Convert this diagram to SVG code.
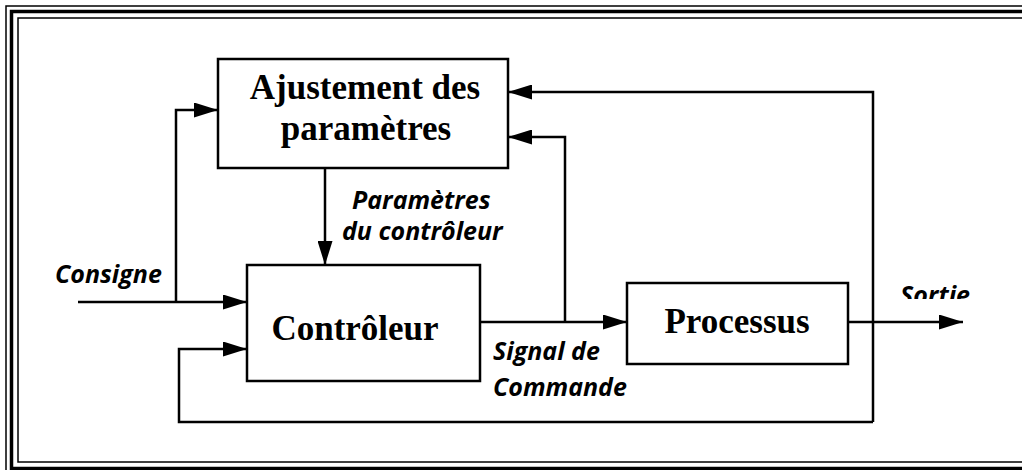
<svg xmlns="http://www.w3.org/2000/svg" width="1022" height="470" viewBox="0 0 1022 470">
  <style>
    .frame { fill: none; stroke: #000; }
    .box { fill: #fff; stroke: #000; stroke-width: 2.5; }
    .title { font-family: "Liberation Serif", "Times New Roman", serif; font-weight: bold; font-size: 35px; fill: #000; text-anchor: middle; }
    .lbl { font-family: "Open Sans", "Noto Sans", sans-serif; font-weight: bold; font-style: italic; font-size: 25px; fill: #000; }
    .wire { fill: none; stroke: #000; stroke-width: 2.5; }
  </style>
  <defs>
    <marker id="arr" viewBox="0 0 24 15" refX="24" refY="7.5" markerWidth="24" markerHeight="15" markerUnits="userSpaceOnUse" orient="auto">
      <path d="M0,0 L24,7.5 L0,15 Z" fill="#000"/>
    </marker>
    <clipPath id="sortieClip">
      <rect x="880" y="270" width="120" height="29"/>
    </clipPath>
  </defs>
  <rect width="1022" height="470" fill="#fff"/>
  <g id="frame">
    <rect class="frame" x="6" y="6" width="1030" height="480" stroke-width="1.5"/>
    <rect class="frame" x="11.5" y="11.5" width="1030" height="457" stroke-width="3.5"/>
    <rect class="frame" x="18" y="18" width="1030" height="444" stroke-width="1.5"/>
  </g>
  <g id="connectors">
    <path class="wire" d="M78,302 H247" marker-end="url(#arr)"/>
    <path class="wire" d="M176,302 V110 H218" marker-end="url(#arr)"/>
    <path class="wire" d="M325,168 V265" marker-end="url(#arr)"/>
    <path class="wire" d="M480,322 H627" marker-end="url(#arr)"/>
    <path class="wire" d="M565,322 V137 H508" marker-end="url(#arr)"/>
    <path class="wire" d="M848,322 H963" marker-end="url(#arr)"/>
    <path class="wire" d="M873,422 V92 H508" marker-end="url(#arr)"/>
    <path class="wire" d="M873,422 H179 V349 H247" marker-end="url(#arr)"/>
  </g>
  <g id="ajustement">
    <rect class="box" x="218" y="59" width="290" height="109"/>
    <text class="title" x="365" y="99">Ajustement des</text>
    <text class="title" x="366" y="140">paramètres</text>
  </g>
  <g id="controleur">
    <rect class="box" x="247" y="265" width="233" height="116"/>
    <text class="title" x="355" y="340">Contrôleur</text>
  </g>
  <g id="processus">
    <rect class="box" x="627" y="283" width="221" height="81"/>
    <text class="title" x="737" y="333">Processus</text>
  </g>
  <g id="labels">
    <text class="lbl" x="55" y="283">Consigne</text>
    <text class="lbl" x="352" y="209">Paramètres</text>
    <text class="lbl" x="342" y="240">du contrôleur</text>
    <text class="lbl" x="493" y="360">Signal de</text>
    <text class="lbl" x="493" y="396">Commande</text>
    <text class="lbl" x="900" y="304" clip-path="url(#sortieClip)">Sortie</text>
  </g>
</svg>
